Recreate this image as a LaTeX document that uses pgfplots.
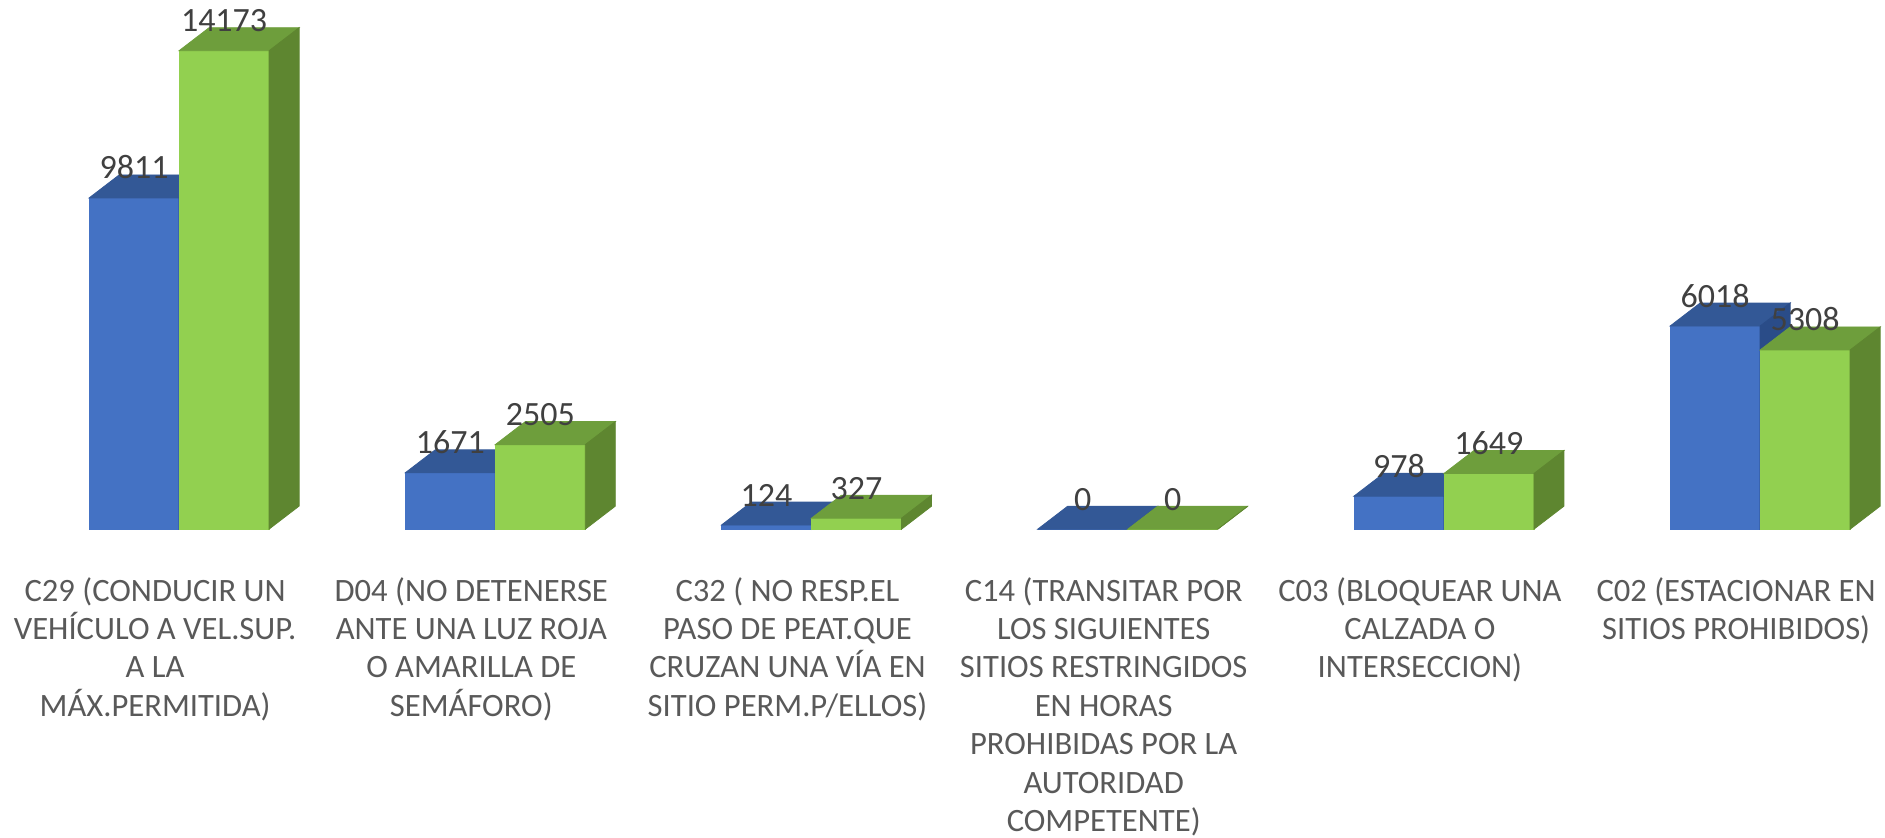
\documentclass[border=0pt]{standalone}
\usepackage{fontspec}
\setmainfont{Carlito}
\usepackage{pgfplots}
\pgfplotsset{compat=1.18}
\definecolor{bluefront}{HTML}{4472C4}
\definecolor{bluetop}{HTML}{335896}
\definecolor{blueside}{HTML}{2A4C88}
\definecolor{greenfront}{HTML}{92D050}
\definecolor{greentop}{HTML}{6E9E3C}
\definecolor{greenside}{HTML}{5E8630}
\definecolor{labelgray}{HTML}{595959}
\definecolor{valgray}{HTML}{404040}
\pgfdeclareplotmark{nothing}{}
% 3D bars: front, top and side faces drawn at each data point (bar top centre of the group)
\pgfplotsset{
  threedblue/.style={
    scatter, only marks, mark=nothing,
    visualization depends on={rawy \as \val},
    scatter/@pre marker code/.code={%
      \pgfmathsetmacro\h{\val*0.01688}%
      \fill[bluefront] (-45pt,0pt) rectangle (0pt,{-\h pt});
      \fill[bluetop] (-45pt,0pt) -- (0pt,0pt) -- (15pt,11.5pt) -- (-30pt,11.5pt) -- cycle;
      \fill[blueside] (0pt,0pt) -- (15pt,11.5pt) -- (15pt,{11.5pt-\h pt}) -- (0pt,{-\h pt}) -- cycle;
    },
    scatter/@post marker code/.code={},
  },
  threedgreen/.style={
    scatter, only marks, mark=nothing,
    visualization depends on={rawy \as \val},
    scatter/@pre marker code/.code={%
      \pgfmathsetmacro\h{\val*0.01688}%
      \fill[greenfront] (0pt,0pt) rectangle (45pt,{-\h pt});
      \fill[greentop] (0pt,0pt) -- (45pt,0pt) -- (60pt,11.5pt) -- (15pt,11.5pt) -- cycle;
      \fill[greenside] (45pt,0pt) -- (60pt,11.5pt) -- (60pt,{11.5pt-\h pt}) -- (45pt,{-\h pt}) -- cycle;
    },
    scatter/@post marker code/.code={},
  },
  vals/.style={
    only marks, mark=nothing, forget plot,
    point meta=rawy,
    nodes near coords={\pgfmathprintnumber[fixed,precision=0,1000 sep={},assume math mode=true]{\pgfplotspointmeta}},
    every node near coord/.append style={anchor=base, xshift=#1, yshift=9.5pt,
      font=\fontsize{17}{20}\selectfont, text=valgray, inner sep=0pt},
  },
}
\begin{document}
\begin{tikzpicture}
\begin{axis}[
  x=158.1pt, y=0.01688pt,
  xmin=-0.5664, xmax=5.395,
  ymin=-9123, ymax=15669,
  axis line style={draw=none},
  major tick length=0pt,
  ytick=\empty,
  xtick={0,1,2,3,4,5},
  xticklabels={
    {C29 (CONDUCIR UN\\VEHÍCULO A VEL.SUP.\\A LA\\MÁX.PERMITIDA)},
    {D04 (NO DETENERSE\\ANTE UNA LUZ ROJA\\O AMARILLA DE\\SEMÁFORO)},
    {C32 ( NO RESP.EL\\PASO DE PEAT.QUE\\CRUZAN UNA VÍA EN\\SITIO PERM.P/ELLOS)},
    {C14 (TRANSITAR POR\\LOS SIGUIENTES\\SITIOS RESTRINGIDOS\\EN HORAS\\PROHIBIDAS POR LA\\AUTORIDAD\\COMPETENTE)},
    {C03 (BLOQUEAR UNA\\CALZADA O\\INTERSECCION)},
    {C02 (ESTACIONAR EN\\SITIOS PROHIBIDOS)}
  },
  xticklabel style={align=center, font=\fontsize{16.3}{19.2}\selectfont, text=labelgray,
    anchor=north, xshift=-12pt, yshift=130.2pt, inner sep=0pt, overlay},
  clip=false,
]
\addplot[threedblue]
  coordinates {(0,9811) (1,1671) (2,124) (3,0) (4,978) (5,6018)};
\addplot[threedgreen]
  coordinates {(0,14173) (1,2505) (2,327) (3,0) (4,1649) (5,5308)};
\addplot[vals={-22.5pt}]
  coordinates {(0,9811) (1,1671) (2,124) (3,0) (4,978) (5,6018)};
\addplot[vals={22.5pt}]
  coordinates {(0,14173) (1,2505) (2,327) (3,0) (4,1649) (5,5308)};
\end{axis}
\end{tikzpicture}
\end{document}
